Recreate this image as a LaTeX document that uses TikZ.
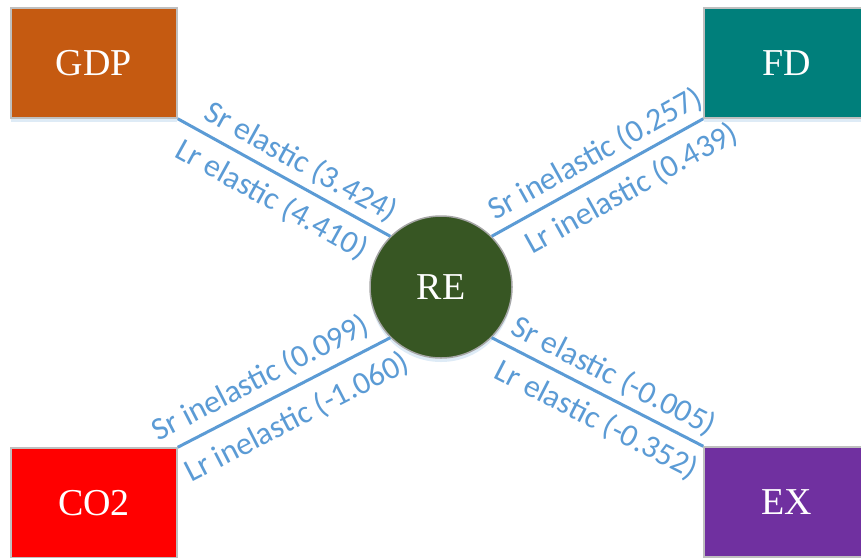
\documentclass[tikz,border=0pt]{standalone}
\usepackage{fontspec}
\setmainfont{Liberation Serif}
\newfontfamily\lblfont{Carlito}
\usetikzlibrary{shadows}
\definecolor{lineblue}{HTML}{5B9BD5}
\definecolor{gdpc}{HTML}{C55A11}
\definecolor{fdc}{HTML}{007F7B}
\definecolor{co2c}{HTML}{FF0000}
\definecolor{exc}{HTML}{7030A0}
\definecolor{rec}{HTML}{375623}
\definecolor{bordc}{HTML}{BFBFBF}
\tikzset{
  boxnode/.style={draw=bordc, line width=1.5pt, minimum width=166pt, minimum height=110pt,
    inner sep=0pt, text=white, font=\fontsize{38}{40}\selectfont,
    drop shadow={shadow xshift=0pt, shadow yshift=-4pt, opacity=0.2, fill=lineblue}},
  renode/.style={circle, draw=gray!70, line width=1.5pt, minimum size=142pt, inner sep=0pt,
    fill=rec, text=white, font=\fontsize{38}{40}\selectfont,
    drop shadow={shadow xshift=0pt, shadow yshift=-4pt, opacity=0.2, fill=lineblue}},
  conn/.style={draw=lineblue, line width=3pt},
  lbl/.style={sloped, text=lineblue, font=\lblfont\fontsize{32}{34}\selectfont, inner sep=5pt},
}
\begin{document}
\begin{tikzpicture}[x=1pt, y=-1pt]
\clip (0,0) rectangle (861,557);
\useasboundingbox (0,0) rectangle (861,557);
\fill[white] (0,0) rectangle (861,557);
\node[boxnode, fill=gdpc] (gdp) at (94,63) {GDP};
\node[boxnode, fill=fdc] (fd) at (787,63) {FD};
\node[boxnode, fill=co2c] (co2) at (94,503) {CO2};
\node[boxnode, fill=exc] (ex) at (787,502) {EX};
\node[renode] (re) at (441,287) {RE};
\draw[conn] (gdp.south east) -- (re.north west)
  node[lbl, pos=0.53, above=1pt] {Sr elastic (3.424)}
  node[lbl, pos=0.5, below=5pt] {Lr elastic (4.410)};
\draw[conn] (re.north east) -- (fd.south west)
  node[lbl, pos=0.54, above=1pt] {Sr inelastic (0.257)}
  node[lbl, pos=0.6, below=6pt] {Lr inelastic (0.439)};
\draw[conn] (co2.north east) -- (re.south west)
  node[lbl, pos=0.44, above=3pt] {Sr inelastic (0.099)}
  node[lbl, pos=0.5, below=8pt] {Lr inelastic (-1.060)};
\draw[conn] (re.south east) -- (ex.north west)
  node[lbl, pos=0.53, above=1pt] {Sr elastic (-0.005)}
  node[lbl, pos=0.55, below=5pt] {Lr elastic (-0.352)};
\end{tikzpicture}
\end{document}
